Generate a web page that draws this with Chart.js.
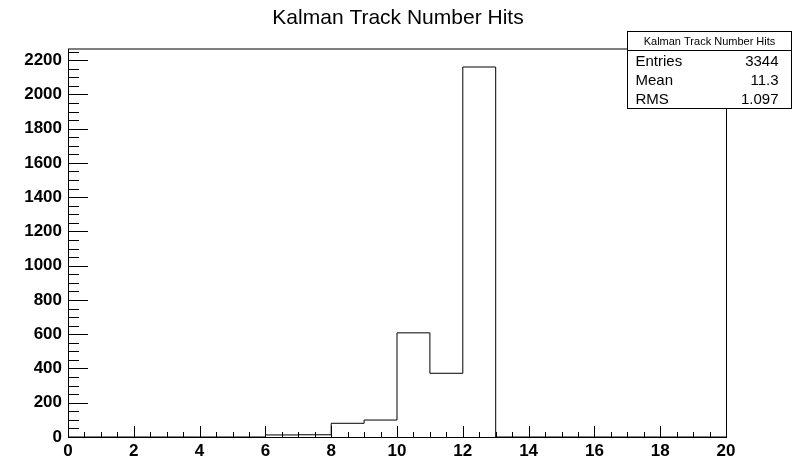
<!DOCTYPE html>
<html>
<head>
<meta charset="utf-8">
<script src="https://cdn.jsdelivr.net/npm/chart.js@4.4.1/dist/chart.umd.min.js"></script>
<style>
  html, body { margin: 0; padding: 0; background: #fff; }
  #wrap { width: 796px; height: 458px; }
</style>
</head>
<body>
<div id="wrap"><canvas id="chart" width="796" height="458"></canvas></div>
<script>
// ─── Data ──────────────────────────────────────────────────────────────────────
const binEdges = [0, 1, 2, 3, 4, 5, 6, 7, 8, 9, 10, 11, 12, 13, 14, 15, 16, 17, 18, 19, 20];
const binCounts = [0, 0, 0, 0, 0, 0, 12, 13, 80, 99, 608, 372, 2160, 0, 0, 0, 0, 0, 0, 0];
const histTitle = "Kalman Track Number Hits";
const statsLabels = ["Entries", "Mean", "RMS"];
const statsValues = ["3344", "11.3", "1.097"];

// step outline points: left edge of each bin, closing at the last edge
const points = binCounts.map((c, i) => ({ x: binEdges[i], y: c }));
points.push({ x: binEdges[binEdges.length - 1], y: 0 });

const yMax = Math.max(...binCounts) * 1.05;
const FONT = "'Liberation Sans', Arial, Helvetica, sans-serif";

// ─── Frame, inward ticks and stats box ─────────────────────────────────────────
const rootStyle = {
  id: "rootStyle",
  afterDraw(chart) {
    const { ctx, chartArea: a, scales: { x, y } } = chart;
    ctx.save();
    ctx.strokeStyle = "#000";
    ctx.lineWidth = 1;
    ctx.strokeRect(a.left + 0.5, a.top + 0.5, a.right - a.left, a.bottom - a.top);

    ctx.beginPath();
    for (let v = 0; v <= 20.001; v += 0.5) {
      const px = Math.round(x.getPixelForValue(v)) + 0.5;
      const len = Math.abs(v % 2) < 1e-6 ? 11 : 5;
      ctx.moveTo(px, a.bottom);
      ctx.lineTo(px, a.bottom - len);
    }
    for (let v = 0; v <= yMax; v += 50) {
      const py = Math.round(y.getPixelForValue(v)) + 0.5;
      const len = v % 200 === 0 ? 20 : 11;
      ctx.moveTo(a.left, py);
      ctx.lineTo(a.left + len, py);
    }
    ctx.stroke();

    // stats box
    const bx = 627.5, by = 31.5, bw = 164, bh = 77, hh = 19;
    ctx.fillStyle = "#fff";
    ctx.fillRect(bx, by, bw, bh);
    ctx.strokeRect(bx, by, bw, bh);
    ctx.beginPath();
    ctx.moveTo(bx, by + hh);
    ctx.lineTo(bx + bw, by + hh);
    ctx.stroke();
    ctx.fillStyle = "#000";
    ctx.textBaseline = "middle";
    ctx.textAlign = "center";
    ctx.font = "11px " + FONT;
    ctx.fillText(histTitle, bx + bw / 2, by + hh / 2 + 0.5);
    ctx.font = "15px " + FONT;
    statsLabels.forEach((lab, i) => {
      const ty = by + hh + 11 + i * 19;
      ctx.textAlign = "left";
      ctx.fillText(lab, bx + 8, ty);
      ctx.textAlign = "right";
      ctx.fillText(statsValues[i], bx + bw - 13, ty);
    });
    ctx.restore();
  }
};

new Chart(document.getElementById("chart"), {
  type: "line",
  data: {
    datasets: [{
      data: points,
      stepped: "before",
      borderColor: "#000",
      borderWidth: 1,
      pointRadius: 0,
      fill: false,
      clip: 4
    }]
  },
  options: {
    responsive: false,
    animation: false,
    layout: { padding: 0 },
    plugins: {
      legend: { display: false },
      tooltip: { enabled: false },
      title: {
        display: true,
        text: histTitle,
        color: "#000",
        font: { family: FONT, size: 21, weight: "normal" },
        padding: { top: 6, bottom: 17.3 }
      }
    },
    scales: {
      x: {
        type: "linear",
        min: 0,
        max: 20,
        grid: { display: false, drawTicks: false },
        border: { display: false },
        ticks: {
          stepSize: 2,
          padding: 4,
          color: "#000",
          font: { family: FONT, size: 17, weight: "bold" },
          maxRotation: 0
        },
        afterFit: s => { s.height = 21; }
      },
      y: {
        min: 0,
        max: yMax,
        grid: { display: false, drawTicks: false },
        border: { display: false },
        ticks: {
          stepSize: 200,
          includeBounds: false,
          padding: 6,
          color: "#000",
          font: { family: FONT, size: 17, weight: "bold" },
          callback: v => String(v)
        },
        afterFit: s => { s.width = 68; }
      },
      // empty right-hand axis, only reserves the right margin
      yRight: {
        position: "right",
        min: 0,
        max: yMax,
        grid: { display: false, drawTicks: false },
        border: { display: false },
        ticks: { display: false },
        afterFit: s => { s.width = 70; }
      }
    }
  },
  plugins: [rootStyle]
});
</script>
</body>
</html>
